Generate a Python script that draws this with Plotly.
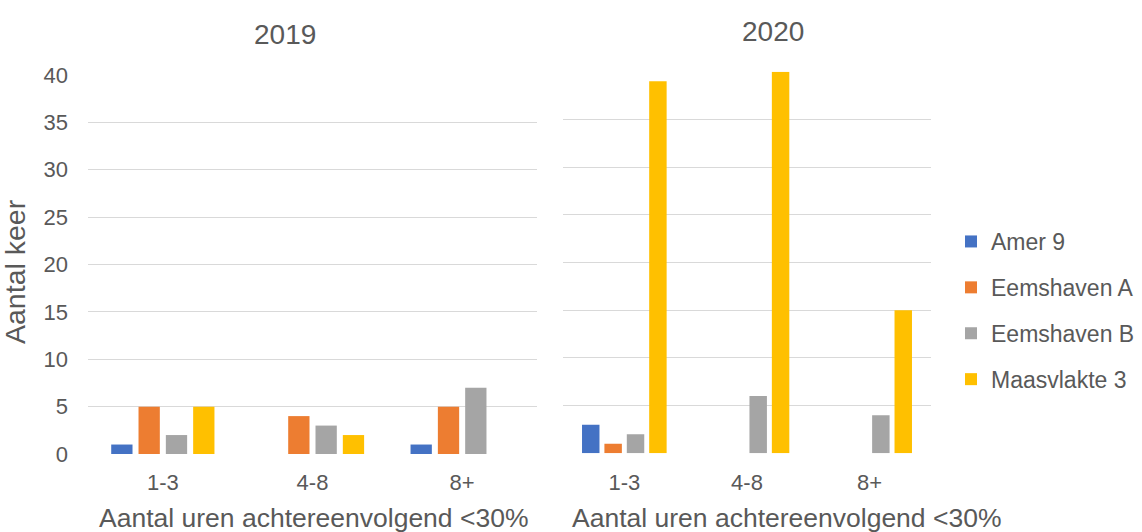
import plotly.graph_objects as go

W, H = 1142, 532

categories = ["1-3", "4-8", "8+"]
series_names = ["Amer 9", "Eemshaven A", "Eemshaven B", "Maasvlakte 3"]
series_colors = ["#4472C4", "#ED7D31", "#A5A5A5", "#FFC000"]

values_2019 = {
    "Amer 9": [1, 0, 1],
    "Eemshaven A": [5, 4, 5],
    "Eemshaven B": [2, 3, 7],
    "Maasvlakte 3": [5, 2, 0],
}
values_2020 = {
    "Amer 9": [3, 0, 0],
    "Eemshaven A": [1, 0, 0],
    "Eemshaven B": [2, 6, 4],
    "Maasvlakte 3": [39, 40, 15],
}

panel_titles = ["2019", "2020"]
y_title = "Aantal keer"
x_title = "Aantal uren achtereenvolgend <30%"

TEXT = "#595959"
GRID = "#D9D9D9"
FONT = "Liberation Sans, Arial, sans-serif"


def px_x(x):
    return x / W


def px_y(y):
    return 1 - y / H


fig = go.Figure()

for name, color in zip(series_names, series_colors):
    fig.add_trace(go.Bar(
        x=categories, y=values_2019[name], name=name,
        marker=dict(color=color, line=dict(width=0)),
        xaxis="x", yaxis="y", legendgroup=name, showlegend=True,
    ))
    fig.add_trace(go.Bar(
        x=categories, y=values_2020[name], name=name,
        marker=dict(color=color, line=dict(width=0)),
        xaxis="x2", yaxis="y2", legendgroup=name, showlegend=False,
    ))

y_common = dict(
    range=[0, 40], dtick=5, showgrid=True, gridcolor=GRID, gridwidth=1,
    zeroline=False, showline=False, ticks="", automargin=False,
    tickfont=dict(size=22, color=TEXT, family=FONT),
)
x_common = dict(
    showgrid=False, zeroline=False, showline=False, ticks="outside",
    ticklen=9, tickcolor="rgba(0,0,0,0)", automargin=False,
    tickfont=dict(size=22, color=TEXT, family=FONT),
)

fig.update_layout(
    width=W, height=H,
    margin=dict(l=0, r=0, t=0, b=0, autoexpand=False),
    paper_bgcolor="white", plot_bgcolor="white",
    font=dict(family=FONT, color=TEXT),
    barmode="group", bargap=0.27, bargroupgap=0.22,
    xaxis=dict(domain=[px_x(88), px_x(537)], anchor="y", **x_common),
    yaxis=dict(domain=[px_y(454), px_y(75)], anchor="x",
               ticklabelstandoff=19, **y_common),
    xaxis2=dict(domain=[px_x(563), px_x(931)], anchor="y2", **x_common),
    yaxis2=dict(domain=[px_y(453.3), px_y(71.7)], anchor="x2",
                showticklabels=False, **y_common),
    legend=dict(
        x=px_x(951), y=px_y(220), xanchor="left", yanchor="top",
        font=dict(size=23, color=TEXT, family=FONT),
        tracegroupgap=13, itemwidth=30, bgcolor="rgba(0,0,0,0)",
    ),
)

annotations = [
    dict(text=panel_titles[0], x=px_x(285), y=px_y(35), font_size=28),
    dict(text=panel_titles[1], x=px_x(773), y=px_y(31), font_size=28),
    dict(text=x_title, x=px_x(313), y=px_y(518), font_size=26.5),
    dict(text=x_title, x=px_x(786), y=px_y(518), font_size=26.5),
    dict(text=y_title, x=px_x(15), y=px_y(272), font_size=28.5, textangle=-90),
]
for a in annotations:
    fig.add_annotation(
        xref="paper", yref="paper", showarrow=False,
        xanchor="center", yanchor="middle",
        font=dict(family=FONT, color=TEXT, size=a.pop("font_size")),
        **a,
    )

fig.write_html("out.html")
